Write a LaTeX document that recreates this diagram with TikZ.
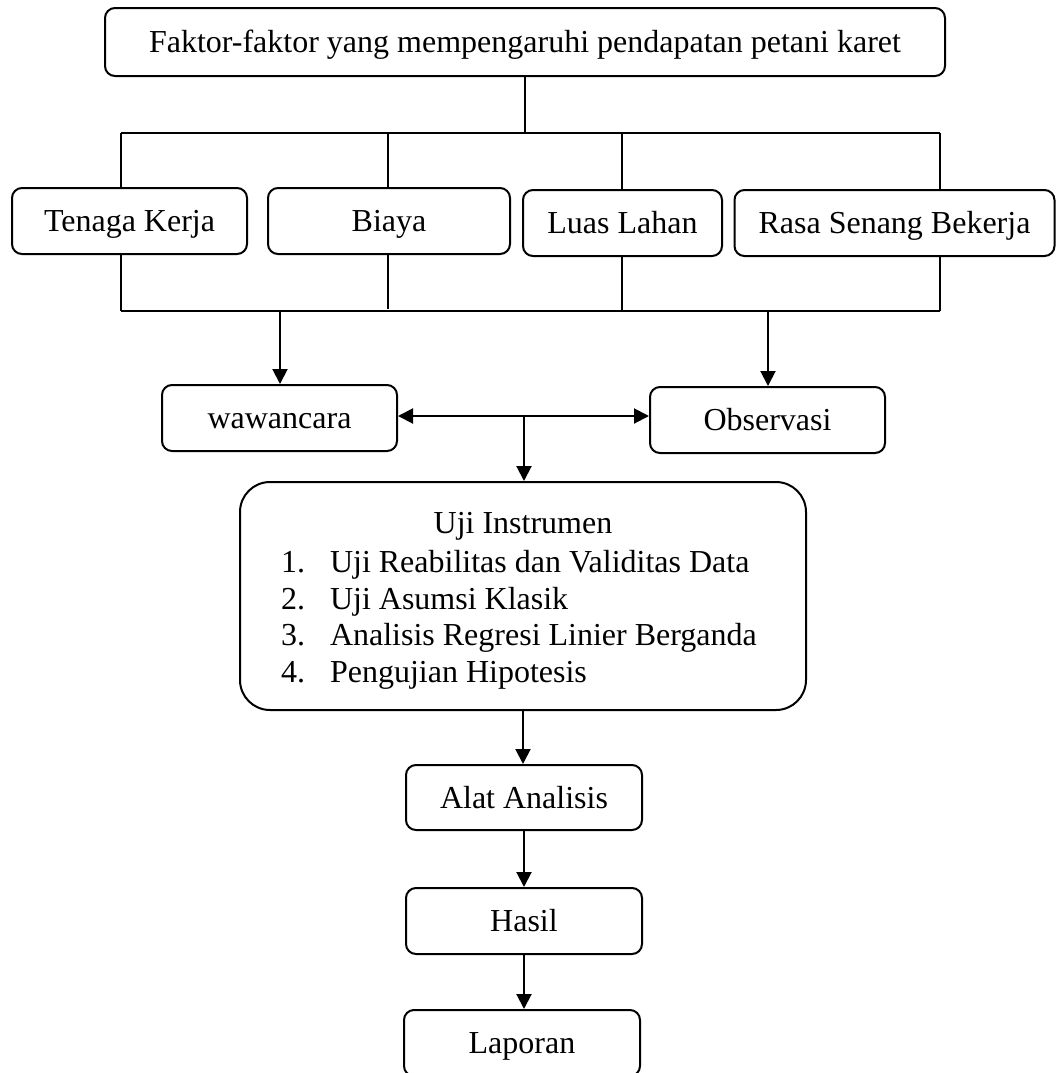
\documentclass[tikz,border=0pt]{standalone}
\usepackage{fontspec}
\setmainfont{Liberation Serif}
\usetikzlibrary{arrows.meta}
\begin{document}
\begin{tikzpicture}[x=0.5pt,y=-0.5pt, line width=1pt,
  box/.style={draw, rounded corners=5pt, inner sep=0pt, text height=12.5pt, text depth=2pt, font=\fontsize{16}{19}\selectfont},
  bigbox/.style={draw, rounded corners=15pt, inner sep=0pt},
  arr/.style={-{Triangle[length=7.5pt,width=7.5pt]}},
  dbl/.style={{Triangle[length=7.5pt,width=7.5pt]}-{Triangle[length=7.5pt,width=7.5pt]}},
  txt/.style={inner sep=0pt, font=\fontsize{16}{19}\selectfont}]
\useasboundingbox (0,0) rectangle (1057,1073);

% boxes
\node[box, minimum width=420pt, minimum height=34pt] (top) at (525,42) {Faktor-faktor yang mempengaruhi pendapatan petani karet};
\node[box, minimum width=117.5pt, minimum height=33pt] (tk) at (129.5,221) {Tenaga Kerja};
\node[box, minimum width=121pt, minimum height=33pt] (by) at (389,221) {Biaya};
\node[box, minimum width=99.5pt, minimum height=33pt] (ll) at (622.5,223) {Luas Lahan};
\node[box, minimum width=160pt, minimum height=33pt] (rs) at (894.5,223) {Rasa Senang Bekerja};
\node[box, minimum width=117.5pt, minimum height=33pt] (ww) at (279.5,418) {wawancara};
\node[box, minimum width=117.5pt, minimum height=33pt] (ob) at (767.5,420) {Observasi};
\node[bigbox, minimum width=283pt, minimum height=114pt] (uji) at (523,596) {};
\node[box, minimum width=118pt, minimum height=32.5pt] (al) at (524,797.5) {Alat Analisis};
\node[box, minimum width=118pt, minimum height=33pt] (hs) at (524,921) {Hasil};
\node[box, minimum width=118pt, minimum height=33pt] (lp) at (522,1043) {Laporan};

% text inside Uji Instrumen
\node[txt, anchor=base] (ujt) at (523,533) {Uji Instrumen};
\node[txt, anchor=base west] (n1) at (280,572) {1.};
\node[txt, anchor=base west] (i1) at (329,572) {Uji Reabilitas dan Validitas Data};
\node[txt, anchor=base west] (n2) at (280,609) {2.};
\node[txt, anchor=base west] (i2) at (329,609) {Uji Asumsi Klasik};
\node[txt, anchor=base west] (n3) at (280,645) {3.};
\node[txt, anchor=base west] (i3) at (329,645) {Analisis Regresi Linier Berganda};
\node[txt, anchor=base west] (n4) at (280,682) {4.};
\node[txt, anchor=base west] (i4) at (329,682) {Pengujian Hipotesis};

% top distribution
\coordinate (hl) at (121,133);
\coordinate (h2) at (388,133);
\coordinate (h3) at (622,133);
\coordinate (hr) at (940,133);
\draw (top.south) -- (top.south |- hl);
\draw (hl) -- (hr);
\draw (hl) -- (tk.north -| hl);
\draw (h2) -- (by.north -| h2);
\draw (h3) -- (ll.north -| h3);
\draw (hr) -- (rs.north -| hr);

% bottom collection
\coordinate (bl) at (121,311);
\coordinate (b2) at (388,309);
\coordinate (b3) at (622,311);
\coordinate (br) at (940,311);
\draw (bl) -- (br);
\draw (tk.south -| bl) -- (bl);
\draw (by.south -| b2) -- (b2);
\draw (ll.south -| b3) -- (b3);
\draw (rs.south -| br) -- (br);

% arrows to wawancara / observasi
\coordinate (a1) at (280,311);
\coordinate (a2) at (768,311);
\draw[arr] (a1) -- (a1 |- ww.north);
\draw[arr] (a2) -- (a2 |- ob.north);

% double arrow and arrow to Uji
\coordinate (dm) at (524,416);
\draw[dbl] (dm -| ww.east) -- (dm -| ob.west);
\draw[arr] (dm) -- (dm |- uji.north);

% lower chain
\draw[arr] (uji.south) -- (uji.south |- al.north);
\draw[arr] (al.south) -- (al.south |- hs.north);
\draw[arr] (hs.south) -- (hs.south |- lp.north);
\end{tikzpicture}
\end{document}
